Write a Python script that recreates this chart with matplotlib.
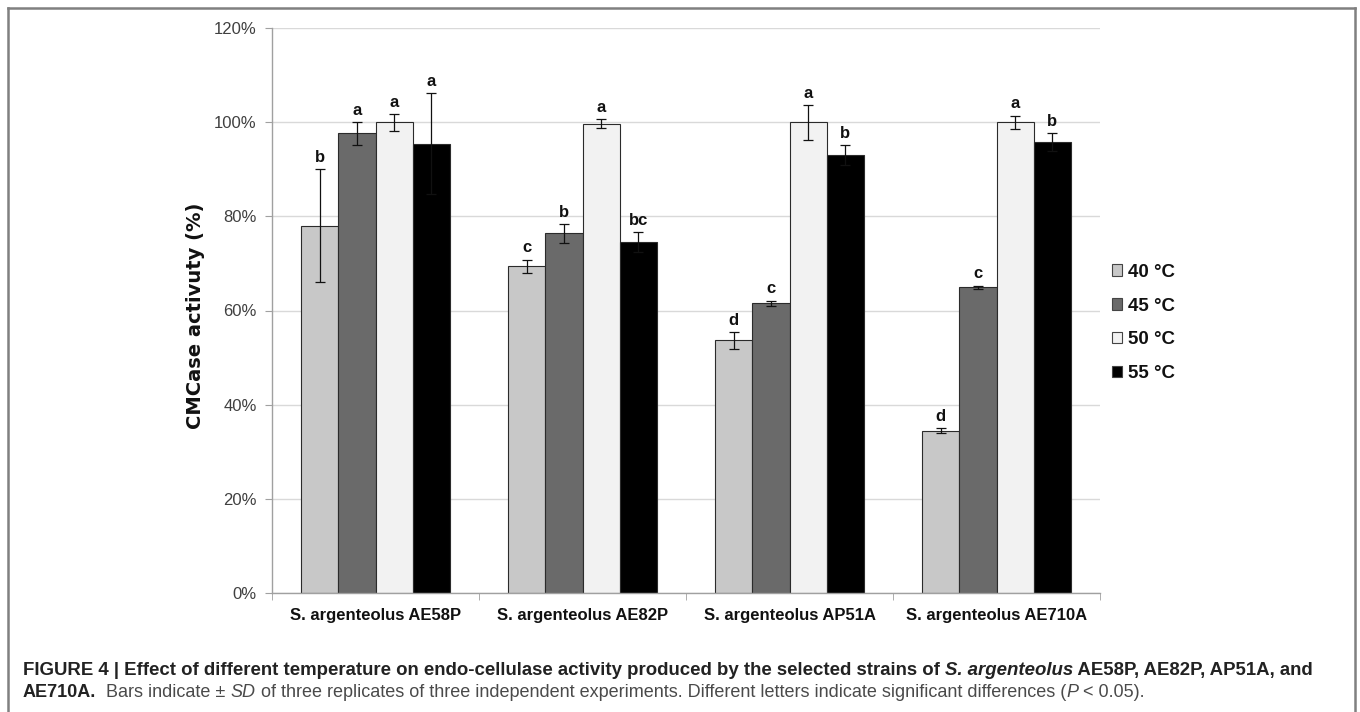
import numpy as np
import matplotlib
matplotlib.use("Agg")
import matplotlib.pyplot as plt
from matplotlib.patches import Patch
from matplotlib.lines import Line2D
from matplotlib.ticker import FuncFormatter, FixedLocator

plt.rcParams["font.family"] = ["Liberation Sans", "DejaVu Sans"]

categories = ["S. argenteolus AE58P", "S. argenteolus AE82P",
              "S. argenteolus AP51A", "S. argenteolus AE710A"]
temps = ["40 °C", "45 °C", "50 °C", "55 °C"]

act_40 = [78.0, 69.4, 53.7, 34.5]
act_45 = [97.6, 76.4, 61.5, 64.9]
act_50 = [100.0, 99.7, 100.0, 100.0]
act_55 = [95.4, 74.5, 93.0, 95.7]

sd_40 = [12.0, 1.4, 1.8, 0.5]
sd_45 = [2.5, 2.0, 0.6, 0.4]
sd_50 = [1.8, 1.0, 3.7, 1.4]
sd_55 = [10.7, 2.1, 2.2, 1.9]

letters_40 = ["b", "c", "d", "d"]
letters_45 = ["a", "b", "c", "c"]
letters_50 = ["a", "a", "a", "a"]
letters_55 = ["a", "bc", "b", "b"]

colors = ["#c8c8c8", "#6a6a6a", "#f2f2f2", "#000000"]

series = [act_40, act_45, act_50, act_55]
errors = [sd_40, sd_45, sd_50, sd_55]
letters = [letters_40, letters_45, letters_50, letters_55]

fig = plt.figure(figsize=(13.6, 7.12), dpi=100)
ax = fig.add_axes([272 / 1360, 1 - 593 / 712, 828 / 1360, 565 / 712])

x = np.arange(len(categories))
width = 0.18
for i in range(4):
    pos = x + (i - 1.5) * width
    ax.bar(pos, series[i], width, color=colors[i], edgecolor="#2b2b2b",
           linewidth=0.8, zorder=2)
    ax.errorbar(pos, series[i], yerr=errors[i], fmt="none", ecolor="#111111",
                elinewidth=0.9, capsize=3.5, capthick=0.9, zorder=3)
    for j in range(len(categories)):
        ax.annotate(letters[i][j], (pos[j], series[i][j] + errors[i][j]),
                    xytext=(0, 3), textcoords="offset points",
                    ha="center", va="bottom", fontsize=12,
                    fontweight="bold", color="#111111")

ax.set_xlim(-0.5, len(categories) - 0.5)
ax.set_ylim(0, 120)
ax.set_yticks(np.arange(0, 121, 20))
ax.yaxis.set_major_formatter(FuncFormatter(lambda v, p: "{:.0f}%".format(v)))
ax.grid(axis="y", color="#d9d9d9", linewidth=1, zorder=0)
ax.set_axisbelow(True)

ax.set_xticks(x)
ax.set_xticklabels(categories, fontsize=12, fontweight="bold", color="#111111")
ax.xaxis.set_minor_locator(FixedLocator(np.arange(-0.5, len(categories), 1)))
ax.tick_params(axis="x", which="major", length=0, pad=11)
ax.tick_params(axis="x", which="minor", length=5, color="#a0a0a0")
ax.tick_params(axis="y", length=5, color="#a0a0a0", pad=6,
               labelsize=12, labelcolor="#404040")

for s in ["top", "right"]:
    ax.spines[s].set_visible(False)
for s in ["left", "bottom"]:
    ax.spines[s].set_color("#a0a0a0")
    ax.spines[s].set_linewidth(1)

ax.set_ylabel("CMCase activuty (%)", family="DejaVu Sans", fontsize=14,
              fontweight="bold", color="#111111")
ax.yaxis.set_label_coords((205 - 272) / 828, 0.49)

handles = [Patch(facecolor=c, edgecolor="#444444", linewidth=0.8) for c in colors]
leg = fig.legend(handles, temps, loc="center left",
                 bbox_to_anchor=(1112 / 1360, 1 - 323 / 712),
                 frameon=False, fontsize=13.5, handlelength=0.55,
                 handleheight=0.55, handletextpad=0.3, labelspacing=0.9,
                 borderpad=0, borderaxespad=0)
for t in leg.get_texts():
    t.set_fontweight("bold")
    t.set_color("#111111")

# border round the figure (open at the bottom)
bc = "#808080"
fig.add_artist(Line2D([8 / 1360, 8 / 1360], [0, 1 - 8 / 712], color=bc, lw=1.8))
fig.add_artist(Line2D([8 / 1360, 1355 / 1360], [1 - 8 / 712, 1 - 8 / 712], color=bc, lw=1.8))
fig.add_artist(Line2D([1355 / 1360, 1355 / 1360], [0, 1 - 8 / 712], color=bc, lw=1.8))

# caption, built from pieces placed one after the other
line1 = [("FIGURE 4 | Effect of different temperature on endo-cellulase activity "
          "produced by the selected strains of ", "bold", "normal", "#222222"),
         ("S. argenteolus", "bold", "italic", "#222222"),
         (" AE58P, AE82P, AP51A, and", "bold", "normal", "#222222")]
line2 = [("AE710A.", "bold", "normal", "#222222"),
         ("  Bars indicate \u00b1 ", "normal", "normal", "#4a4a4a"),
         ("SD", "normal", "italic", "#4a4a4a"),
         (" of three replicates of three independent experiments. "
          "Different letters indicate significant differences (", "normal", "normal", "#4a4a4a"),
         ("P", "normal", "italic", "#4a4a4a"),
         (" < 0.05).", "normal", "normal", "#4a4a4a")]

for line, ypix, size in [(line1, 712 - 679, 13.4), (line2, 712 - 701, 13.0)]:
    prev = None
    for text, weight, style, col in line:
        if prev is None:
            prev = ax.annotate(text, xy=(23, ypix), xycoords="figure pixels",
                               ha="left", va="bottom", fontsize=size,
                               fontweight=weight, fontstyle=style, color=col,
                               annotation_clip=False)
        else:
            prev = ax.annotate(text, xy=(1, 0), xycoords=prev,
                               ha="left", va="bottom", fontsize=size,
                               fontweight=weight, fontstyle=style, color=col,
                               annotation_clip=False)

plt.savefig("out.png", dpi=100)
plt.close()
